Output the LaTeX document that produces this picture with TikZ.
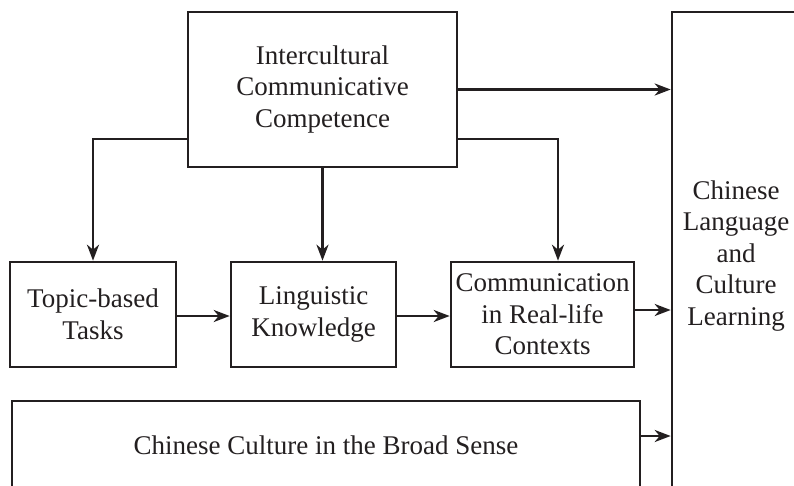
\documentclass[tikz,border=0pt]{standalone}
\usepackage{fontspec}
\setmainfont{Liberation Serif}
\usetikzlibrary{arrows.meta}
\definecolor{ink}{HTML}{231F20}
\tikzset{
  box/.style={draw=ink, line width=2.6pt, text=ink, inner sep=0pt, align=center,
    font=\fontsize{27}{31.5}\selectfont},
  arr/.style={draw=ink, line width=2.6pt, -{Stealth[length=16pt,width=12pt,inset=5pt]}},
}
\begin{document}
\begin{tikzpicture}[x=1pt,y=-1pt]
\useasboundingbox (0,0) rectangle (794,485);
\clip (0,0) rectangle (794,485);
% top box
\node[box, minimum width=269pt, minimum height=155pt] (icc) at (322.5,89.5)
  {Intercultural\\Communicative\\Competence};
% tall box on the right, running off the page
\node[box, minimum width=128pt, minimum height=488pt] (clc) at (736,256)
  {Chinese\\Language\\and\\Culture\\Learning};
% middle row
\node[box, minimum width=166pt, minimum height=105pt] (topic) at (93,314.5)
  {Topic-based\\Tasks};
\node[box, minimum width=165pt, minimum height=105pt] (ling) at (313.5,314.5)
  {Linguistic\\Knowledge};
\node[box, minimum width=183pt, minimum height=105pt] (comm) at (542.5,314.5)
  {Communication\\in Real-life\\Contexts};
% wide bottom box
\node[box, minimum width=628pt, minimum height=89pt] (culture) at (326,445.5)
  {Chinese Culture in the Broad Sense};
% connectors (shifts are in canvas units: positive is upward)
\draw[arr] (icc.east) -- (icc.east -| clc.west);
\draw[arr] ([yshift=-49.5pt]icc.west) -| (topic.north);
\draw[arr] (icc.south) -- (icc.south |- ling.north);
\draw[arr] ([yshift=-49.5pt]icc.east) -| ([xshift=15.5pt]comm.north);
\draw[arr] ([yshift=-1.5pt]topic.east) -- ([yshift=-1.5pt]ling.west);
\draw[arr] ([yshift=-1.5pt]ling.east) -- ([yshift=-1.5pt]comm.west);
\draw[arr] ([yshift=4.5pt]comm.east) -- ([yshift=4.5pt]comm.east -| clc.west);
\draw[arr] ([yshift=9.5pt]culture.east) -- ([yshift=9.5pt]culture.east -| clc.west);
\end{tikzpicture}
\end{document}
